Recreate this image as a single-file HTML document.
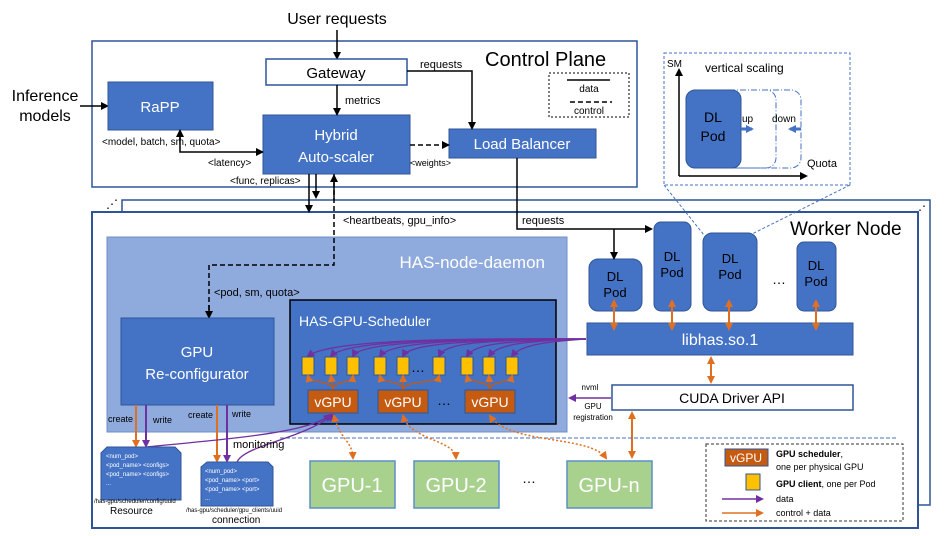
<!DOCTYPE html>
<html><head><meta charset="utf-8"><style>
html,body{margin:0;padding:0;background:#fff}
svg{display:block;font-family:"Liberation Sans",sans-serif}
</style></head><body>
<svg width="947" height="536" viewBox="0 0 947 536" xmlns="http://www.w3.org/2000/svg">
<defs>
<marker id="ak" markerWidth="8" markerHeight="8" refX="6" refY="4" orient="auto" markerUnits="userSpaceOnUse"><path d="M0,0L8,4L0,8z" fill="#000"/></marker>
<marker id="ap" markerWidth="8" markerHeight="8" refX="6" refY="4" orient="auto" markerUnits="userSpaceOnUse"><path d="M0,0L8,4L0,8z" fill="#7030a0"/></marker>
<marker id="ao" markerWidth="8" markerHeight="8" refX="6" refY="4" orient="auto" markerUnits="userSpaceOnUse"><path d="M0,0L8,4L0,8z" fill="#e07020"/></marker>
<marker id="aos" markerWidth="8" markerHeight="8" refX="2" refY="4" orient="auto" markerUnits="userSpaceOnUse"><path d="M8,0L0,4L8,8z" fill="#e07020"/></marker>
<marker id="ab" markerWidth="8" markerHeight="8" refX="6" refY="4" orient="auto" markerUnits="userSpaceOnUse"><path d="M0,0L8,4L0,8z" fill="#4472c4"/></marker>
</defs>

<!-- Control plane -->
<rect x="92" y="41" width="545" height="146" fill="#fff" stroke="#2f5597" stroke-width="1.5"/>
<text x="485" y="66" font-size="20">Control Plane</text>
<rect x="549" y="73" width="80" height="44" fill="none" stroke="#000" stroke-dasharray="2,2"/>
<line x1="567" y1="80" x2="610" y2="80" stroke="#000" stroke-width="1.5"/>
<text x="589" y="92" font-size="10" text-anchor="middle">data</text>
<line x1="570" y1="102" x2="612" y2="102" stroke="#000" stroke-width="1.5" stroke-dasharray="5,3"/>
<text x="589" y="114" font-size="10" text-anchor="middle">control</text>

<text x="337" y="24" font-size="16" text-anchor="middle">User requests</text>
<line x1="337" y1="30" x2="337" y2="58" stroke="#000" stroke-width="1.5" marker-end="url(#ak)"/>
<text x="45" y="101" font-size="16" text-anchor="middle">Inference</text>
<text x="45" y="121" font-size="16" text-anchor="middle">models</text>
<line x1="80" y1="106" x2="107" y2="106" stroke="#000" stroke-width="1.5" marker-end="url(#ak)"/>

<rect x="266" y="59" width="141" height="26" fill="#fff" stroke="#2f5597" stroke-width="1.5"/>
<text x="336" y="78" font-size="15" text-anchor="middle">Gateway</text>
<rect x="108" y="82" width="105" height="48" fill="#4472c4" stroke="#2f5597"/>
<text x="160" y="112" font-size="15" fill="#fff" text-anchor="middle">RaPP</text>
<rect x="263" y="115" width="147" height="59" fill="#4472c4" stroke="#2f5597"/>
<text x="336" y="140" font-size="15" fill="#fff" text-anchor="middle">Hybrid</text>
<text x="336" y="162" font-size="15" fill="#fff" text-anchor="middle">Auto-scaler</text>
<rect x="449" y="129" width="147" height="29" fill="#4472c4" stroke="#2f5597"/>
<text x="522" y="149" font-size="15" fill="#fff" text-anchor="middle">Load Balancer</text>

<line x1="337" y1="85" x2="337" y2="114" stroke="#000" stroke-width="1.5" marker-end="url(#ak)"/>
<text x="345" y="104" font-size="11">metrics</text>
<polyline points="407,71 472,71 472,128" fill="none" stroke="#000" stroke-width="1.5" marker-end="url(#ak)"/>
<text x="420" y="68" font-size="11">requests</text>
<line x1="410" y1="145" x2="448" y2="145" stroke="#000" stroke-width="1.5" stroke-dasharray="5,3" marker-end="url(#ak)"/>
<text x="410" y="166" font-size="9">&lt;weights&gt;</text>
<text x="102" y="145" font-size="10">&lt;model, batch, sm, quota&gt;</text>
<polyline points="180,131 180,152 262,152" fill="none" stroke="#000" stroke-width="1.5" marker-end="url(#ak)"/>
<line x1="180" y1="140" x2="180" y2="131" stroke="#000" stroke-width="1.5" marker-end="url(#ak)"/>
<text x="208" y="166" font-size="10">&lt;latency&gt;</text>
<text x="230" y="184" font-size="10">&lt;func, replicas&gt;</text>

<!-- Inset vertical scaling -->
<rect x="664" y="53" width="186" height="132" fill="#fff" stroke="#4472c4" stroke-dasharray="3,2"/>
<text x="667" y="67" font-size="10">SM</text>
<text x="705" y="72" font-size="12">vertical scaling</text>
<line x1="679" y1="176" x2="679" y2="70" stroke="#000" stroke-width="1.5" marker-end="url(#ak)"/>
<line x1="679" y1="176" x2="806" y2="176" stroke="#000" stroke-width="1.5" marker-end="url(#ak)"/>
<text x="807" y="167" font-size="11">Quota</text>
<rect x="686" y="90" width="90" height="78" rx="10" fill="none" stroke="#4472c4" stroke-dasharray="6,2,1,2"/>
<rect x="686" y="90" width="115" height="78" rx="10" fill="none" stroke="#4472c4" stroke-dasharray="6,2,1,2"/>
<rect x="686" y="90" width="55" height="78" rx="9" fill="#4472c4" stroke="#2f5597"/>
<text x="713" y="122" font-size="14" text-anchor="middle">DL</text>
<text x="713" y="141" font-size="14" text-anchor="middle">Pod</text>
<text x="742" y="122" font-size="10">up</text>
<line x1="741" y1="129" x2="752" y2="129" stroke="#4472c4" stroke-width="3" marker-end="url(#ab)"/>
<text x="772" y="122" font-size="10">down</text>
<line x1="801" y1="129" x2="790" y2="129" stroke="#4472c4" stroke-width="3" marker-end="url(#ab)"/>

<!-- Worker node boxes -->
<rect x="122" y="200" width="808" height="305" fill="#fff" stroke="#2f5597" stroke-width="1.5"/>
<text x="106" y="208" font-size="12">⋰</text>
<text x="914" y="214" font-size="12">⋰</text>
<rect x="92" y="212" width="826" height="316" fill="#fff" stroke="#2f5597" stroke-width="2"/>
<text x="790" y="235" font-size="19">Worker Node</text>
<line x1="664" y1="185" x2="704" y2="235" stroke="#4472c4" stroke-dasharray="3,2"/>
<line x1="850" y1="185" x2="750" y2="235" stroke="#4472c4" stroke-dasharray="3,2"/>

<line x1="309" y1="174" x2="309" y2="211" stroke="#000" stroke-width="1.5" marker-end="url(#ak)"/>
<line x1="316" y1="174" x2="316" y2="197" stroke="#000" stroke-width="1.5" marker-end="url(#ak)"/>
<text x="343" y="224" font-size="11">&lt;heartbeats, gpu_info&gt;</text>

<rect x="107" y="237" width="460" height="195" fill="#8faadc" stroke="#6f8fc8"/>
<text x="545" y="268" font-size="17" fill="#fff" text-anchor="end">HAS-node-daemon</text>
<polyline points="334,174 334,265 209,265 209,316" fill="none" stroke="#000" stroke-width="1.5" stroke-dasharray="5,3"/>
<line x1="334" y1="200" x2="334" y2="176" stroke="#000" stroke-width="1.5" marker-end="url(#ak)"/>
<line x1="209" y1="305" x2="209" y2="317" stroke="#000" stroke-width="1.5" marker-end="url(#ak)"/>
<text x="214" y="296" font-size="11">&lt;pod, sm, quota&gt;</text>

<rect x="121" y="318" width="153" height="87" fill="#4472c4" stroke="#2f5597"/>
<text x="197" y="357" font-size="15" fill="#fff" text-anchor="middle">GPU</text>
<text x="197" y="379" font-size="15" fill="#fff" text-anchor="middle">Re-configurator</text>

<rect x="290" y="300" width="266" height="124" fill="#4472c4" stroke="#000" stroke-width="1.5"/>
<text x="299" y="326" font-size="14" fill="#fff">HAS-GPU-Scheduler</text>

<g fill="none" stroke="#7030a0" stroke-width="1.3">
<path d="M586,339 C450,338 330,340 308,356" marker-end="url(#ap)"/>
<path d="M586,339 C450,338 345,341 331,356" marker-end="url(#ap)"/>
<path d="M586,339 C450,339 360,342 353,356" marker-end="url(#ap)"/>
<path d="M586,339 C460,339 390,342 380,356" marker-end="url(#ap)"/>
<path d="M586,339 C470,340 410,343 403,356" marker-end="url(#ap)"/>
<path d="M586,339 C480,340 445,343 439,356" marker-end="url(#ap)"/>
<path d="M586,339 C500,341 475,344 467,356" marker-end="url(#ap)"/>
<path d="M586,339 C520,341 497,345 489,356" marker-end="url(#ap)"/>
<path d="M586,339 C540,342 520,346 512,356" marker-end="url(#ap)"/>
</g>
<g fill="#ffc000" stroke="#2f5597">
<rect x="302" y="357" width="12" height="18"/><rect x="325" y="357" width="12" height="18"/><rect x="347" y="357" width="12" height="18"/>
<rect x="374" y="357" width="12" height="18"/><rect x="397" y="357" width="12" height="18"/><rect x="433" y="357" width="12" height="18"/>
<rect x="461" y="357" width="12" height="18"/><rect x="483" y="357" width="12" height="18"/><rect x="506" y="357" width="12" height="18"/>
</g>
<text x="411" y="372" font-size="14" fill="#000">…</text>
<g fill="none" stroke="#c55a11" stroke-width="1.3">
<path d="M333,390 C333,380 310,384 308,376" marker-end="url(#ao)"/><path d="M333,390 L331,376" marker-end="url(#ao)"/><path d="M333,390 C333,380 352,384 353,376" marker-end="url(#ao)"/>
<path d="M403,390 C403,380 382,384 380,376" marker-end="url(#ao)"/><path d="M403,390 L403,376" marker-end="url(#ao)"/><path d="M403,390 C403,380 437,384 439,376" marker-end="url(#ao)"/>
<path d="M490,390 C490,380 469,384 467,376" marker-end="url(#ao)"/><path d="M490,390 L489,376" marker-end="url(#ao)"/><path d="M490,390 C490,380 510,384 512,376" marker-end="url(#ao)"/>
</g>
<g fill="#c55a11" stroke="#2f5597">
<rect x="308" y="390" width="50" height="23"/><rect x="378" y="390" width="50" height="23"/><rect x="465" y="390" width="50" height="23"/>
</g>
<g font-size="14" fill="#fff" text-anchor="middle"><text x="333" y="407">vGPU</text><text x="403" y="407">vGPU</text><text x="490" y="407">vGPU</text></g>
<text x="437" y="405" font-size="14">…</text>

<!-- DL pods -->
<g fill="#4472c4" stroke="#2f5597">
<rect x="589" y="259" width="53" height="52" rx="9"/>
<rect x="654" y="222" width="37" height="89" rx="7"/>
<rect x="703" y="233" width="54" height="78" rx="9"/>
<rect x="797" y="242" width="39" height="69" rx="7"/>
</g>
<g font-size="13" text-anchor="middle">
<text x="615" y="281">DL</text><text x="615" y="297">Pod</text>
<text x="672" y="261">DL</text><text x="672" y="277">Pod</text>
<text x="730" y="263">DL</text><text x="730" y="279">Pod</text>
<text x="816" y="270">DL</text><text x="816" y="286">Pod</text>
</g>
<text x="772" y="284" font-size="14">…</text>
<polyline points="517,158 517,229 651,229" fill="none" stroke="#000" stroke-width="1.5" marker-end="url(#ak)"/>
<line x1="614" y1="229" x2="614" y2="258" stroke="#000" stroke-width="1.5" marker-end="url(#ak)"/>
<text x="522" y="224" font-size="11">requests</text>

<rect x="587" y="323" width="266" height="32" fill="#4472c4" stroke="#2f5597"/>
<text x="720" y="345" font-size="16" fill="#fff" text-anchor="middle">libhas.so.1</text>
<g stroke="#e07020" stroke-width="2" fill="none">
<line x1="614" y1="301" x2="614" y2="329" marker-start="url(#aos)" marker-end="url(#ao)"/>
<line x1="672" y1="301" x2="672" y2="329" marker-start="url(#aos)" marker-end="url(#ao)"/>
<line x1="729" y1="301" x2="729" y2="329" marker-start="url(#aos)" marker-end="url(#ao)"/>
<line x1="816" y1="301" x2="816" y2="329" marker-start="url(#aos)" marker-end="url(#ao)"/>
<line x1="711" y1="358" x2="711" y2="382" marker-start="url(#aos)" marker-end="url(#ao)"/>
<line x1="632" y1="413" x2="632" y2="457" marker-start="url(#aos)" marker-end="url(#ao)"/>
</g>
<rect x="612" y="385" width="241" height="25" fill="#fff" stroke="#2f5597" stroke-width="1.5"/>
<text x="732" y="403" font-size="14" text-anchor="middle">CUDA Driver API</text>
<line x1="611" y1="398" x2="570" y2="398" stroke="#7030a0" stroke-width="1.5" marker-end="url(#ap)"/>
<text x="590" y="390" font-size="8" text-anchor="middle">nvml</text>
<text x="593" y="409" font-size="8" text-anchor="middle">GPU</text>
<text x="593" y="420" font-size="8" text-anchor="middle">registration</text>

<line x1="280" y1="438" x2="897" y2="438" stroke="#4472c4" stroke-dasharray="4,2"/>

<g stroke-width="2" fill="none">
<line x1="136" y1="405" x2="136" y2="446" stroke="#e07020" marker-end="url(#ao)"/>
<line x1="146" y1="405" x2="146" y2="446" stroke="#7030a0" marker-end="url(#ap)"/>
<line x1="217" y1="405" x2="217" y2="461" stroke="#e07020" marker-end="url(#ao)"/>
<line x1="227" y1="405" x2="227" y2="461" stroke="#7030a0" marker-end="url(#ap)"/>
</g>
<g font-size="9" fill="#000"><text x="108" y="422">create</text><text x="153" y="423">write</text><text x="188" y="418">create</text><text x="232" y="417">write</text></g>
<g fill="none" stroke="#7030a0" stroke-width="1.3">
<path d="M145,447 C240,438 310,432 330,415" marker-end="url(#ap)"/>
<path d="M237,462 C245,445 300,440 333,415" marker-end="url(#ap)"/>
</g>
<text x="233" y="448" font-size="11">monitoring</text>

<path d="M107,447 L175,447 L181,453 L181,500 L101,500 L101,453 Z" fill="#4472c4" stroke="#2f5597"/>
<g font-size="6" fill="#fff"><text x="106" y="458">&lt;num_pod&gt;</text><text x="106" y="467">&lt;pod_name&gt; &lt;configs&gt;</text><text x="106" y="476">&lt;pod_name&gt; &lt;configs&gt;</text><text x="106" y="485">...</text></g>
<text x="94" y="503" font-size="6">/has-gpu/scheduler/config/uuid</text>
<text x="110" y="514" font-size="10">Resource</text>
<path d="M207,462 L268,462 L273,467 L273,506 L201,506 L201,467 Z" fill="#4472c4" stroke="#2f5597"/>
<g font-size="6" fill="#fff"><text x="205" y="473">&lt;num_pod&gt;</text><text x="205" y="482">&lt;pod_name&gt; &lt;port&gt;</text><text x="205" y="491">&lt;pod_name&gt; &lt;port&gt;</text><text x="205" y="500">...</text></g>
<text x="186" y="512" font-size="6">/has-gpu/scheduler/gpu_clients/uuid</text>
<text x="212" y="523" font-size="10">connection</text>

<g fill="#a9d18e" stroke="#5b8fc9" stroke-width="1.5">
<rect x="310" y="461" width="85" height="47"/><rect x="414" y="461" width="85" height="47"/><rect x="567" y="461" width="85" height="47"/>
</g>
<g font-size="20" fill="#fff" text-anchor="middle"><text x="352" y="492">GPU-1</text><text x="456" y="492">GPU-2</text><text x="609" y="492">GPU-n</text></g>
<text x="522" y="483" font-size="14">…</text>
<g fill="none" stroke="#e07020" stroke-width="1.5" stroke-dasharray="2,2">
<path d="M334,416 C340,440 352,440 353,458" marker-start="url(#aos)" marker-end="url(#ao)"/>
<path d="M403,416 C410,440 455,440 456,458" marker-start="url(#aos)" marker-end="url(#ao)"/>
<path d="M490,416 C510,445 590,435 606,458" marker-start="url(#aos)" marker-end="url(#ao)"/>
</g>

<rect x="706" y="444" width="197" height="77" fill="#fff" stroke="#333" stroke-dasharray="3,2"/>
<rect x="725" y="449" width="43" height="17" fill="#c55a11" stroke="#2f5597"/>
<text x="746" y="462" font-size="12" fill="#fff" text-anchor="middle">vGPU</text>
<text x="776" y="457" font-size="9"><tspan font-weight="bold">GPU scheduler</tspan>,</text>
<text x="776" y="470" font-size="9">one per physical GPU</text>
<rect x="746" y="474" width="14" height="16" fill="#ffc000" stroke="#2f5597"/>
<text x="776" y="487" font-size="9"><tspan font-weight="bold">GPU client</tspan>, one per Pod</text>
<line x1="722" y1="499" x2="762" y2="499" stroke="#7030a0" stroke-width="1.5" marker-end="url(#ap)"/>
<text x="776" y="502" font-size="9">data</text>
<line x1="722" y1="513" x2="762" y2="513" stroke="#e07020" stroke-width="1.5" marker-end="url(#ao)"/>
<text x="776" y="516" font-size="9">control + data</text>
</svg>
</body></html>
